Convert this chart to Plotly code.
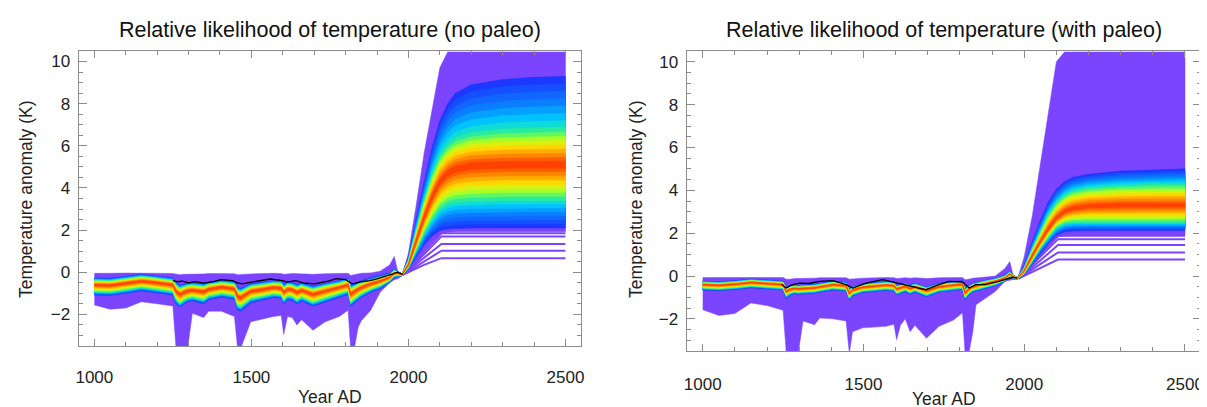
import numpy as np
import plotly.graph_objects as go
from plotly.colors import sample_colorscale

# ---------------- data ----------------
H_YEARS = [1000, 1050, 1100, 1150, 1200, 1250, 1260, 1272, 1285, 1297, 1312, 1348, 1364,
           1405, 1446, 1456, 1466, 1498, 1570, 1595, 1603, 1615, 1630, 1645, 1660, 1696,
           1735, 1780, 1808, 1816, 1828, 1840, 1850, 1880, 1910, 1940, 1955, 1968, 1980]
F_YEARS = [2000, 2025, 2050, 2075, 2100, 2125, 2150, 2200, 2300, 2400, 2500]
YEARS = H_YEARS + F_YEARS

# ---- left panel: no paleo ----
L_ENV_HI = [-0.05, -0.05, -0.04, -0.03, -0.05, -0.06, -0.1, -0.12, -0.1, -0.08, -0.08, -0.08, -0.06,
            -0.05, -0.07, -0.12, -0.12, -0.08, -0.05, -0.06, -0.1, -0.08, -0.06, -0.08, -0.07, -0.1,
            -0.07, -0.05, -0.05, -0.15, -0.12, -0.08, -0.05, -0.03, 0.05, 0.35, 0.75, -0.1, -0.15] + \
           [0.9, 3.2, 5.65, 7.75, 9.7, 10.45, 10.45, 10.45, 10.45, 10.45, 10.45]
L_ENV_LO = [-1.55, -1.75, -1.7, -1.4, -1.5, -1.6, -3.6, -3.6, -3.6, -3.6, -1.95, -2.15, -1.85,
            -1.85, -2.1, -3.6, -3.6, -2.35, -2.1, -2.05, -2.95, -2.1, -2.15, -2.5, -2.25, -2.75,
            -2.35, -2.1, -1.8, -3.6, -3.6, -2.6, -2.3, -1.8, -0.95, -0.5, -0.35, -0.3, -0.15] + \
           [0.08, 0.6, 1.05, 1.45, 1.8, 1.9, 1.92, 1.92, 1.92, 1.92, 1.92]
L_CENTER = [-0.6, -0.62, -0.52, -0.42, -0.5, -0.6, -0.9, -1.05, -0.95, -0.88, -0.85, -0.92, -0.8,
            -0.7, -0.78, -1.15, -1.2, -0.9, -0.72, -0.75, -0.95, -0.8, -0.82, -0.95, -0.85, -1.05,
            -0.88, -0.72, -0.6, -1.05, -0.9, -0.8, -0.72, -0.55, -0.42, -0.25, -0.05, -0.05, -0.12] + \
           [0.35, 1.5, 2.6, 3.55, 4.3, 4.7, 4.9, 5.05, 5.1, 5.1, 5.1]
L_WARM_HI = [-0.38, -0.4, -0.3, -0.2, -0.28, -0.38, -0.6, -0.75, -0.68, -0.62, -0.6, -0.66, -0.57,
             -0.48, -0.55, -0.85, -0.9, -0.65, -0.5, -0.52, -0.7, -0.57, -0.6, -0.7, -0.62, -0.78,
             -0.63, -0.5, -0.38, -0.75, -0.65, -0.57, -0.5, -0.35, -0.25, -0.12, 0.08, 0.0, -0.1] + \
            [0.55, 2.0, 3.4, 4.6, 5.5, 6.0, 6.3, 6.55, 6.7, 6.75, 6.8]
L_WARM_LO = [-0.93, -0.95, -0.85, -0.73, -0.83, -0.93, -1.3, -1.5, -1.35, -1.25, -1.2, -1.32, -1.15,
             -1.03, -1.12, -1.6, -1.65, -1.28, -1.05, -1.08, -1.35, -1.15, -1.18, -1.35, -1.2, -1.45,
             -1.25, -1.05, -0.9, -1.45, -1.28, -1.15, -1.05, -0.82, -0.65, -0.4, -0.17, -0.14, -0.15] + \
            [0.22, 1.05, 1.85, 2.5, 3.0, 3.25, 3.35, 3.4, 3.45, 3.45, 3.45]
L_BLUE_HI = [-0.27, -0.29, -0.2, -0.1, -0.18, -0.27, -0.5, -0.62, -0.56, -0.52, -0.5, -0.55, -0.47,
             -0.38, -0.44, -0.72, -0.76, -0.55, -0.4, -0.42, -0.58, -0.46, -0.49, -0.58, -0.51, -0.66,
             -0.53, -0.4, -0.28, -0.63, -0.55, -0.47, -0.4, -0.25, -0.15, -0.04, 0.15, 0.03, -0.08] + \
            [0.75, 2.6, 4.3, 5.9, 7.2, 8.0, 8.5, 8.9, 9.15, 9.25, 9.3]
L_BLUE_LO = [-1.08, -1.1, -1.0, -0.88, -0.98, -1.08, -1.5, -1.65, -1.52, -1.4, -1.35, -1.5, -1.3,
             -1.18, -1.28, -1.8, -1.85, -1.45, -1.2, -1.23, -1.5, -1.3, -1.33, -1.5, -1.36, -1.6,
             -1.42, -1.2, -1.05, -1.6, -1.45, -1.3, -1.2, -0.95, -0.78, -0.5, -0.25, -0.2, -0.17] + \
            [0.15, 0.75, 1.3, 1.72, 1.98, 2.05, 2.08, 2.1, 2.1, 2.1, 2.1]
L_TAIL_MID = [0.35, 0.5, 0.68, 0.85, 0.95]      # value of the lowest runs at 2050
L_TAIL_END = [0.67, 1.02, 1.34, 1.7, 1.85]      # value of the lowest runs after 2105
L_OBS_YEARS = [1250, 1265, 1280, 1300, 1320, 1349, 1380, 1402, 1440, 1455, 1470, 1507, 1530, 1560,
               1600, 1613, 1640, 1665, 1700, 1718, 1745, 1771, 1800, 1815, 1824, 1850, 1877, 1900,
               1929, 1950, 1965, 1982]
L_OBS = [-0.4, -0.45, -0.42, -0.5, -0.45, -0.52, -0.45, -0.35, -0.4, -0.5, -0.55, -0.45, -0.4, -0.32,
         -0.4, -0.47, -0.4, -0.5, -0.55, -0.5, -0.42, -0.3, -0.35, -0.5, -0.55, -0.45, -0.4, -0.32,
         -0.2, -0.08, 0.0, -0.1]

# ---- right panel: with paleo ----
R_ENV_HI = [-0.07, -0.07, -0.06, -0.05, -0.07, -0.07, -0.15, -0.15, -0.12, -0.1, -0.1, -0.1, -0.08,
            -0.07, -0.08, -0.15, -0.15, -0.1, -0.07, -0.08, -0.12, -0.1, -0.08, -0.1, -0.08, -0.12,
            -0.08, -0.07, -0.07, -0.17, -0.15, -0.1, -0.07, -0.05, 0.0, 0.35, 0.68, -0.12, -0.12] + \
           [0.9, 2.8, 5.0, 7.6, 10.0, 10.45, 10.45, 10.45, 10.45, 10.45, 10.45]
R_ENV_LO = [-1.57, -1.84, -1.75, -1.26, -1.38, -1.6, -3.6, -3.6, -3.6, -3.6, -2.1, -2.27, -1.96,
            -2.0, -2.1, -3.6, -2.6, -2.42, -2.35, -2.25, -2.97, -2.3, -2.0, -2.6, -2.3, -2.9,
            -2.35, -2.05, -1.72, -3.6, -3.6, -2.6, -1.34, -1.03, -0.72, -0.25, -0.2, -0.18, -0.12] + \
           [0.05, 0.55, 1.0, 1.45, 1.8, 1.88, 1.9, 1.9, 1.9, 1.9, 1.9]
R_CENTER = [-0.4, -0.43, -0.38, -0.3, -0.35, -0.4, -0.72, -0.62, -0.58, -0.6, -0.58, -0.55, -0.5,
            -0.4, -0.45, -0.8, -0.65, -0.52, -0.42, -0.45, -0.6, -0.55, -0.48, -0.58, -0.5, -0.68,
            -0.5, -0.42, -0.38, -0.78, -0.6, -0.5, -0.45, -0.35, -0.25, -0.1, 0.1, -0.05, -0.1] + \
           [0.25, 0.95, 1.6, 2.2, 2.7, 3.0, 3.15, 3.25, 3.3, 3.3, 3.3]
R_WARM_HI = [-0.3, -0.33, -0.28, -0.2, -0.25, -0.3, -0.6, -0.52, -0.48, -0.5, -0.48, -0.45, -0.4,
             -0.3, -0.35, -0.68, -0.55, -0.42, -0.32, -0.35, -0.5, -0.45, -0.38, -0.48, -0.4, -0.57,
             -0.4, -0.32, -0.28, -0.66, -0.5, -0.4, -0.35, -0.25, -0.16, -0.02, 0.17, -0.01, -0.08] + \
            [0.35, 1.25, 2.05, 2.85, 3.4, 3.75, 3.95, 4.1, 4.2, 4.25, 4.25]
R_WARM_LO = [-0.57, -0.6, -0.55, -0.47, -0.52, -0.57, -0.93, -0.8, -0.75, -0.77, -0.75, -0.72, -0.67,
             -0.57, -0.62, -1.02, -0.84, -0.69, -0.59, -0.62, -0.8, -0.73, -0.65, -0.77, -0.67, -0.88,
             -0.67, -0.59, -0.55, -1.0, -0.8, -0.67, -0.62, -0.5, -0.38, -0.2, 0.0, -0.1, -0.12] + \
            [0.12, 0.7, 1.3, 1.8, 2.25, 2.45, 2.5, 2.5, 2.5, 2.5, 2.5]
R_BLUE_HI = [-0.24, -0.27, -0.22, -0.14, -0.19, -0.24, -0.54, -0.46, -0.42, -0.44, -0.42, -0.39, -0.34,
             -0.24, -0.29, -0.62, -0.49, -0.36, -0.26, -0.29, -0.44, -0.39, -0.32, -0.42, -0.34, -0.51,
             -0.34, -0.26, -0.22, -0.6, -0.44, -0.34, -0.29, -0.19, -0.1, 0.04, 0.22, 0.02, -0.07] + \
            [0.5, 1.6, 2.6, 3.45, 4.05, 4.4, 4.6, 4.75, 4.9, 4.95, 5.0]
R_BLUE_LO = [-0.65, -0.68, -0.63, -0.55, -0.6, -0.65, -1.05, -0.9, -0.83, -0.85, -0.83, -0.8, -0.75,
             -0.65, -0.7, -1.12, -0.92, -0.77, -0.67, -0.7, -0.88, -0.8, -0.73, -0.85, -0.75, -0.97,
             -0.75, -0.67, -0.63, -1.1, -0.88, -0.75, -0.7, -0.58, -0.45, -0.25, -0.05, -0.14, -0.14] + \
            [0.08, 0.55, 1.05, 1.5, 1.9, 2.05, 2.1, 2.12, 2.12, 2.12, 2.12]
R_TAIL_MID = [0.38, 0.55, 0.72, 0.88, 0.98]
R_TAIL_END = [0.77, 1.1, 1.45, 1.72, 1.88]
R_OBS_YEARS = [1245, 1260, 1275, 1302, 1330, 1364, 1405, 1446, 1467, 1490, 1508, 1560, 1591, 1622,
               1663, 1694, 1735, 1766, 1808, 1829, 1849, 1880, 1921, 1950, 1963, 1978]
R_OBS = [-0.4, -0.56, -0.42, -0.33, -0.35, -0.25, -0.22, -0.4, -0.56, -0.45, -0.33, -0.17, -0.28, -0.4,
         -0.56, -0.64, -0.4, -0.25, -0.28, -0.56, -0.4, -0.4, -0.25, -0.12, -0.06, -0.1]

TAIL_YEARS = [1982, 2050, 2105, 2500]
X_TICKS = [1000, 1500, 2000, 2500]
Y_TICKS = [-2, 0, 2, 4, 6, 8, 10]
TITLES = ["Relative likelihood of temperature (no paleo)",
          "Relative likelihood of temperature (with paleo)"]

# ---------------- styling ----------------
PURPLE = "#7b44ff"
# likelihood colour ramp: 0 = most likely (centre), 1 = outer edge of the blue zone
RAINBOW = [[0.0, "#ff2200"], [0.1, "#ff6000"], [0.2, "#ffa000"], [0.3, "#ffe400"],
           [0.4, "#a8ff28"], [0.5, "#30f08c"], [0.62, "#00d0ff"], [0.78, "#0a80ff"],
           [1.0, "#1c38ff"]]
LEVELS = [1.0, 0.93, 0.86, 0.79, 0.72, 0.65, 0.58, 0.52, 0.46, 0.4, 0.34, 0.28,
          0.22, 0.16, 0.1, 0.05]
FONT = "Liberation Sans, Arial, sans-serif"
AX_COL = "#8c8c8c"

fig = go.Figure()


def band(xref, yref, lo, hi, color):
    x = list(YEARS) + list(YEARS)[::-1]
    y = list(lo) + list(hi)[::-1]
    fig.add_trace(go.Scatter(x=x, y=y, fill="toself", fillcolor=color, mode="lines",
                             line=dict(width=0.5, color=color), hoverinfo="skip",
                             showlegend=False, xaxis=xref, yaxis=yref))


def panel(xref, yref, env_lo, env_hi, center, warm_lo, warm_hi, blue_lo, blue_hi,
          tail_mid, tail_end, obs_x, obs_y):
    c = np.array(center)
    wl, wh = np.array(warm_lo), np.array(warm_hi)
    bl, bh = np.array(blue_lo), np.array(blue_hi)
    band(xref, yref, env_lo, env_hi, PURPLE)
    for m, e in zip(tail_mid, tail_end):
        fig.add_trace(go.Scatter(x=TAIL_YEARS, y=[-0.12, m, e, e], mode="lines",
                                 line=dict(color=PURPLE, width=2), hoverinfo="skip",
                                 showlegend=False, xaxis=xref, yaxis=yref))
    for t in LEVELS:
        col = sample_colorscale(RAINBOW, [t])[0]
        if t >= 0.5:
            g = (t - 0.5) / 0.5
            lo, hi = wl + g * (bl - wl), wh + g * (bh - wh)
        else:
            h = t / 0.5
            lo, hi = c + h * (wl - c), c + h * (wh - c)
        band(xref, yref, lo, hi, col)
    fig.add_trace(go.Scatter(x=obs_x, y=obs_y, mode="lines",
                             line=dict(color="black", width=1.3), hoverinfo="skip",
                             showlegend=False, xaxis=xref, yaxis=yref))


panel("x", "y", L_ENV_LO, L_ENV_HI, L_CENTER, L_WARM_LO, L_WARM_HI, L_BLUE_LO, L_BLUE_HI,
      L_TAIL_MID, L_TAIL_END, L_OBS_YEARS, L_OBS)
panel("x2", "y2", R_ENV_LO, R_ENV_HI, R_CENTER, R_WARM_LO, R_WARM_HI, R_BLUE_LO, R_BLUE_HI,
      R_TAIL_MID, R_TAIL_END, R_OBS_YEARS, R_OBS)

W, H = 1207, 407


def xaxis(domain, standoff):
    return dict(domain=domain, range=[950, 2550], showgrid=False, zeroline=False,
                showline=True, linecolor=AX_COL, linewidth=1.2, mirror="allticks",
                ticks="inside", ticklen=7, tickcolor=AX_COL, tickvals=X_TICKS,
                minor=dict(ticks="inside", ticklen=4, dtick=100, tick0=1000, tickcolor=AX_COL),
                tickfont=dict(family=FONT, size=17, color="#222"), ticklabelstandoff=standoff)


def yaxis(domain, anchor):
    return dict(domain=domain, range=[-3.5, 10.5], anchor=anchor, showgrid=False, zeroline=False,
                showline=True, linecolor=AX_COL, linewidth=1.2, mirror="allticks",
                ticks="inside", ticklen=8, tickcolor=AX_COL, tickvals=Y_TICKS,
                minor=dict(ticks="inside", ticklen=4, dtick=0.5, tick0=0, tickcolor=AX_COL),
                tickfont=dict(family=FONT, size=17, color="#222"), ticklabelstandoff=4)


fig.update_layout(
    width=W, height=H, margin=dict(l=0, r=0, t=0, b=0),
    paper_bgcolor="white", plot_bgcolor="white", showlegend=False,
    xaxis=xaxis([68 / W, 573 / W], 15) | dict(anchor="y"),
    yaxis=yaxis([1 - 338 / H, 1 - 43 / H], "x"),
    xaxis2=xaxis([679 / W, 1196 / W], 17) | dict(anchor="y2"),
    yaxis2=yaxis([1 - 343 / H, 1 - 43 / H], "x2"),
)

ann = []
for i, (cx, ty, xy, yx) in enumerate([(320.5, 22, 389, 15), (937.5, 22, 391, 628)]):
    ann.append(dict(x=cx / W, y=1 - ty / H, xref="paper", yref="paper", text=TITLES[i],
                    showarrow=False, font=dict(family=FONT, size=21.5, color="#111"),
                    xanchor="center", yanchor="middle"))
    ann.append(dict(x=cx / W, y=1 - xy / H, xref="paper", yref="paper", text="Year AD",
                    showarrow=False, font=dict(family=FONT, size=17.5, color="#222"),
                    xanchor="center", yanchor="middle"))
    ann.append(dict(x=yx / W, y=1 - 191 / H, xref="paper", yref="paper",
                    text="Temperature anomaly (K)", textangle=-90, showarrow=False,
                    font=dict(family=FONT, size=17.5, color="#222"),
                    xanchor="center", yanchor="middle"))
fig.update_layout(annotations=ann)

fig.write_html("out.html")
